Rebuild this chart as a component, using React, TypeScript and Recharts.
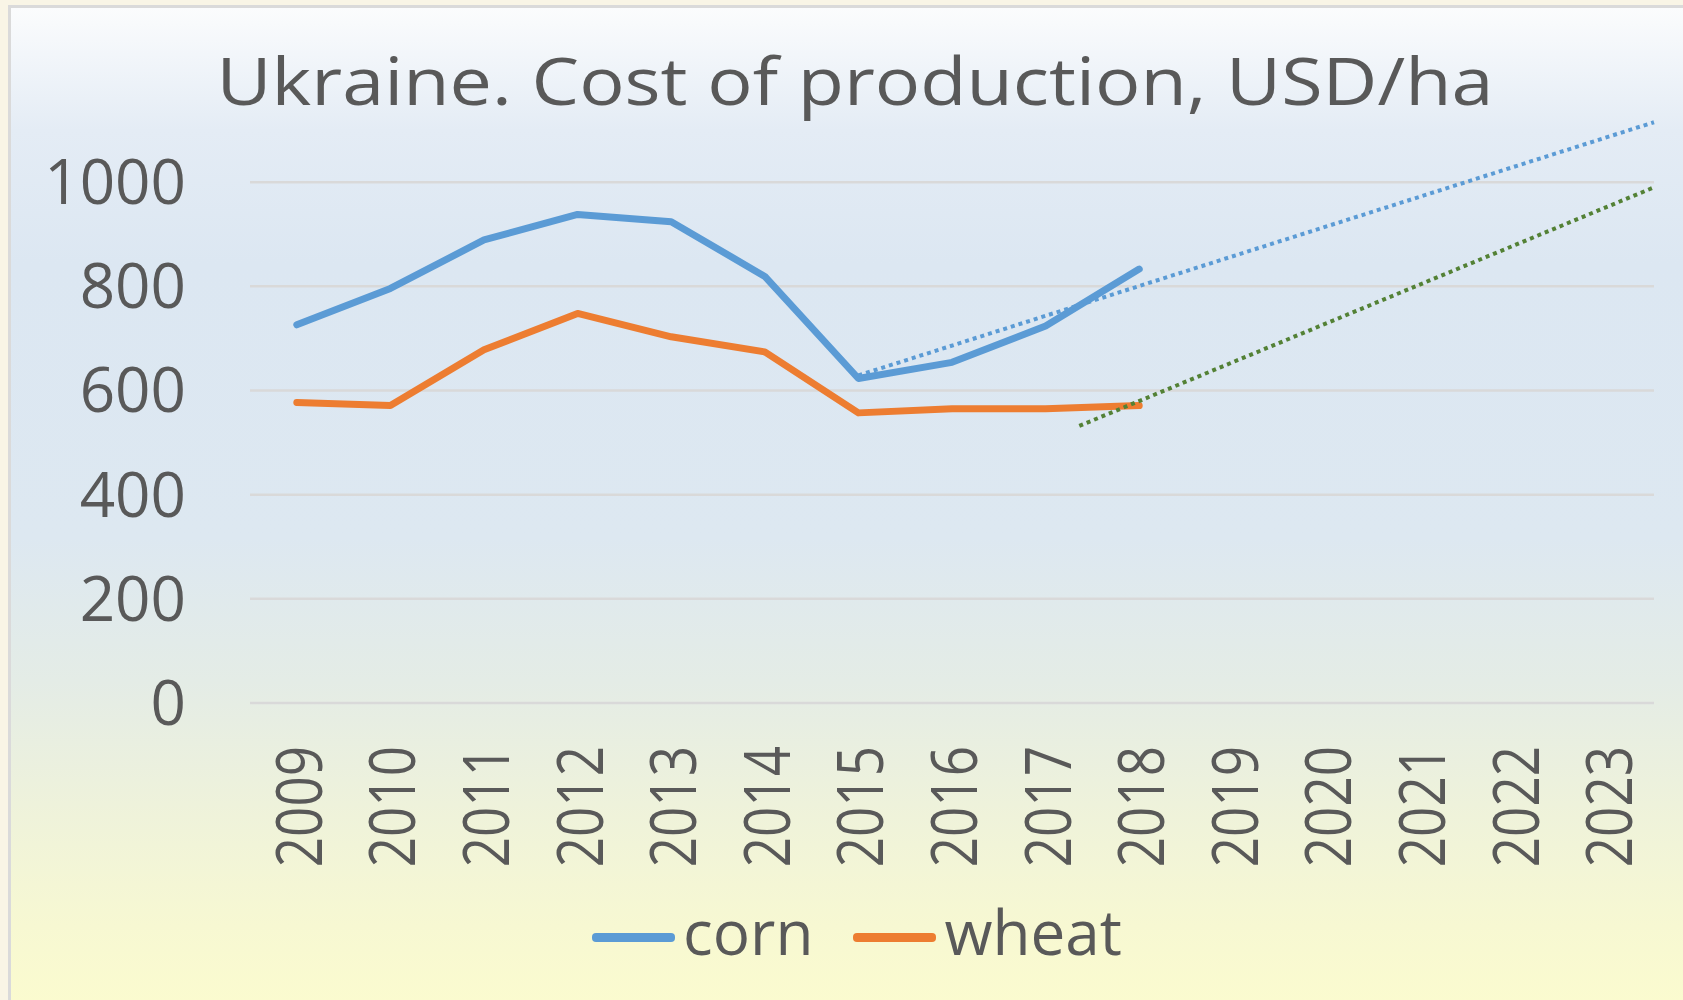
import React from 'react';
import { LineChart, Line, XAxis, YAxis, CartesianGrid, Legend } from 'recharts';

// years shown on the axis
const years = [2009, 2010, 2011, 2012, 2013, 2014, 2015, 2016, 2017, 2018, 2019, 2020, 2021, 2022, 2023];
const yTicks = [0, 200, 400, 600, 800, 1000];

// actual cost of production, USD/ha (2009-2018)
const dataYears = [2009, 2010, 2011, 2012, 2013, 2014, 2015, 2016, 2017, 2018];
const cornCost = [726, 796, 889, 938, 924, 819, 623, 654, 724, 833];
const wheatCost = [577, 571, 678, 748, 703, 674, 557, 565, 565, 571];

// dotted trend lines (start / end)
const cornTrendYears = [2015, 2023.5];
const cornTrendCost = [629, 1115];
const wheatTrendYears = [2017.36, 2023.5];
const wheatTrendCost = [532, 990];

const corn = dataYears.map((year, i) => ({ year, value: cornCost[i] }));
const wheat = dataYears.map((year, i) => ({ year, value: wheatCost[i] }));
const cornTrend = cornTrendYears.map((year, i) => ({ year, value: cornTrendCost[i] }));
const wheatTrend = wheatTrendYears.map((year, i) => ({ year, value: wheatTrendCost[i] }));

const FONT = '"Open Sans", sans-serif';
const TEXT = '#595959';

const YearTick = (props: any) => {
  const { x, y, payload } = props;
  return (
    <g transform={`translate(${x},${y})`}>
      <text
        transform="rotate(-90) scale(1,1.2)"
        textAnchor="end"
        dominantBaseline="central"
        fontSize={53}
        fontFamily={FONT}
        fill={TEXT}
      >
        {payload.value}
      </text>
    </g>
  );
};

const LegendContent = (props: any) => {
  const items = (props.payload || []).filter((p: any) => p.type !== 'none');
  return (
    <div style={{ display: 'flex', justifyContent: 'center', alignItems: 'center', height: 80, paddingLeft: 60 }}>
      {items.map((p: any, i: number) => (
        <div key={p.value} style={{ display: 'flex', alignItems: 'center', marginLeft: i ? 40 : 0 }}>
          <div style={{ width: 83, height: 9, background: p.color, borderRadius: 4, marginRight: 8 }} />
          <span style={{ fontFamily: FONT, fontSize: 62, color: TEXT, lineHeight: '80px', position: 'relative', top: -6 }}>
            {p.value}
          </span>
        </div>
      ))}
    </div>
  );
};

export default function App() {
  return (
    <div style={{ position: 'absolute', left: 0, top: 0, width: 1683, height: 1000, background: '#f9f5e6', overflow: 'hidden' }}>
      <div
        style={{
          position: 'absolute',
          left: 8,
          top: 5,
          width: 1700,
          height: 1020,
          border: '3px solid #dadada',
          background:
            'linear-gradient(to bottom, #fbfcfd 0%, #e4ecf5 12%, #dce7f2 25%, #dde8f1 52%, #e4ece6 66%, #eef2db 78%, #f7f8d2 90%, #fcfcce 100%)',
        }}
      />
      <div
        style={{
          position: 'absolute',
          left: 855,
          top: 46,
          transform: 'translateX(-50%) scaleX(1.145)',
          whiteSpace: 'nowrap',
          fontFamily: FONT,
          fontSize: 66,
          lineHeight: '66px',
          color: TEXT,
        }}
      >
        Ukraine. Cost of production, USD/ha
      </div>
      <div style={{ position: 'absolute', left: 0, top: 0 }}>
        <LineChart width={1683} height={1000} margin={{ top: 104, right: 29, bottom: 23, left: 0 }}>
          <CartesianGrid vertical={false} stroke="#d9d9d9" strokeWidth={2.5} syncWithTicks />
          <XAxis
            dataKey="year"
            type="number"
            domain={[2008.5, 2023.5]}
            ticks={years}
            interval={0}
            axisLine={false}
            tickLine={false}
            tickSize={0}
            tickMargin={43}
            height={194}
            tick={<YearTick />}
          />
          <YAxis
            type="number"
            domain={[0, 1150]}
            ticks={yTicks}
            width={250}
            axisLine={false}
            tickLine={false}
            tickSize={0}
            tickMargin={64}
            tick={{ fontSize: 62, fontFamily: FONT, fill: TEXT }}
          />
          <Legend verticalAlign="bottom" content={<LegendContent />} />
          <Line
            data={corn}
            dataKey="value"
            name="corn"
            stroke="#5b9bd5"
            strokeWidth={7}
            strokeLinecap="round"
            strokeLinejoin="round"
            dot={false}
            isAnimationActive={false}
          />
          <Line
            data={wheat}
            dataKey="value"
            name="wheat"
            stroke="#ed7d31"
            strokeWidth={7}
            strokeLinecap="round"
            strokeLinejoin="round"
            dot={false}
            isAnimationActive={false}
          />
          <Line
            data={cornTrend}
            dataKey="value"
            name="corn trend"
            legendType="none"
            stroke="#5b9bd5"
            strokeWidth={4}
            strokeDasharray="4 4"
            dot={false}
            isAnimationActive={false}
          />
          <Line
            data={wheatTrend}
            dataKey="value"
            name="wheat trend"
            legendType="none"
            stroke="#538135"
            strokeWidth={4}
            strokeDasharray="4 4"
            dot={false}
            isAnimationActive={false}
          />
        </LineChart>
      </div>
    </div>
  );
}
